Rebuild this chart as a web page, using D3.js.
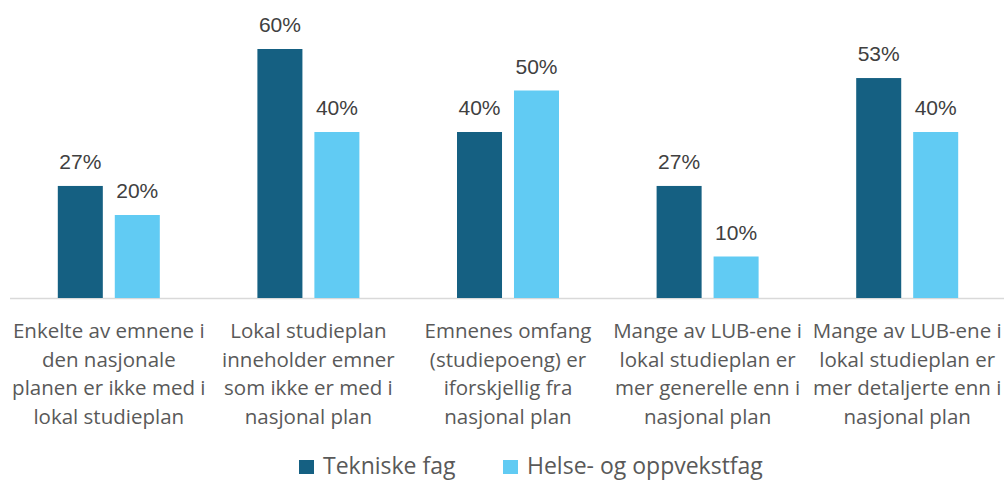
<!DOCTYPE html>
<html>
<head>
<meta charset="utf-8">
<script src="https://cdn.jsdelivr.net/npm/d3@7"></script>
<style>
  html, body { margin: 0; padding: 0; background: #fff; }
  svg { display: block; }
</style>
</head>
<body>
<svg id="chart" width="1004" height="480"></svg>
<script>
const categories = [
  ["Enkelte av emnene i", "den nasjonale", "planen er ikke med i", "lokal studieplan"],
  ["Lokal studieplan", "inneholder emner", "som ikke er med i", "nasjonal plan"],
  ["Emnenes omfang", "(studiepoeng) er", "iforskjellig fra", "nasjonal plan"],
  ["Mange av LUB-ene i", "lokal studieplan er", "mer generelle enn i", "nasjonal plan"],
  ["Mange av LUB-ene i", "lokal studieplan er", "mer detaljerte enn i", "nasjonal plan"]
];
const seriesNames = ["Tekniske fag", "Helse- og oppvekstfag"];
const tekniske = [27, 60, 40, 27, 53];
const helse = [20, 40, 50, 10, 40];
const colors = ["#156082", "#61CBF3"];

const svg = d3.select("#chart");
const labelFont = "'Open Sans', 'Noto Sans', sans-serif";
const valueFont = "'Liberation Sans', Arial, sans-serif";

const x = d3.scaleBand().domain(d3.range(categories.length)).range([9, 1007]).padding(0);
const xInner = d3.scaleBand().domain([0, 1]).range([0, 102]).paddingInner(0.21);
const y = d3.scaleLinear().domain([0, 60]).range([298, 49]);

const data = [];
categories.forEach((c, i) => {
  [tekniske, helse].forEach((s, j) => data.push({ i, j, v: s[i] }));
});

const groupOffset = i => x(i) + x.bandwidth() / 2 - 51;

// axis line
svg.append("line")
  .attr("x1", 10).attr("x2", 1004)
  .attr("y1", y(0) + 0.5).attr("y2", y(0) + 0.5)
  .attr("stroke", "#d9d9d9").attr("stroke-width", 1.5);

svg.selectAll("rect.bar").data(data).enter().append("rect")
  .attr("class", "bar")
  .attr("x", d => groupOffset(d.i) + xInner(d.j))
  .attr("width", xInner.bandwidth())
  .attr("y", d => y(d.v))
  .attr("height", d => y(0) - y(d.v))
  .attr("fill", d => colors[d.j]);

svg.selectAll("text.val").data(data).enter().append("text")
  .attr("class", "val")
  .attr("x", d => groupOffset(d.i) + xInner(d.j) + xInner.bandwidth() / 2)
  .attr("y", d => y(d.v) - 17)
  .attr("text-anchor", "middle")
  .attr("font-family", valueFont)
  .attr("font-size", 21)
  .attr("fill", "#404040")
  .text(d => d.v + "%");

// category labels
const cat = svg.selectAll("g.cat").data(categories).enter().append("text")
  .attr("class", "cat")
  .attr("text-anchor", "middle")
  .attr("font-family", labelFont)
  .attr("font-size", 20.5)
  .attr("fill", "#595959");
cat.each(function (lines, i) {
  d3.select(this).selectAll("tspan").data(lines).enter().append("tspan")
    .attr("x", x(i) + x.bandwidth() / 2)
    .attr("y", (l, k) => 338 + k * 28.5)
    .text(l => l);
});

// legend
const legendX = [299, 503];
const leg = svg.selectAll("g.leg").data(seriesNames).enter().append("g")
  .attr("transform", (d, i) => `translate(${legendX[i]},0)`);
leg.append("rect").attr("x", 0).attr("y", 460).attr("width", 15).attr("height", 14)
  .attr("fill", (d, i) => colors[i]);
leg.append("text").attr("x", 24).attr("y", 473.5)
  .attr("font-family", labelFont).attr("font-size", 23)
  .attr("fill", "#595959").text(d => d);
</script>
</body>
</html>
